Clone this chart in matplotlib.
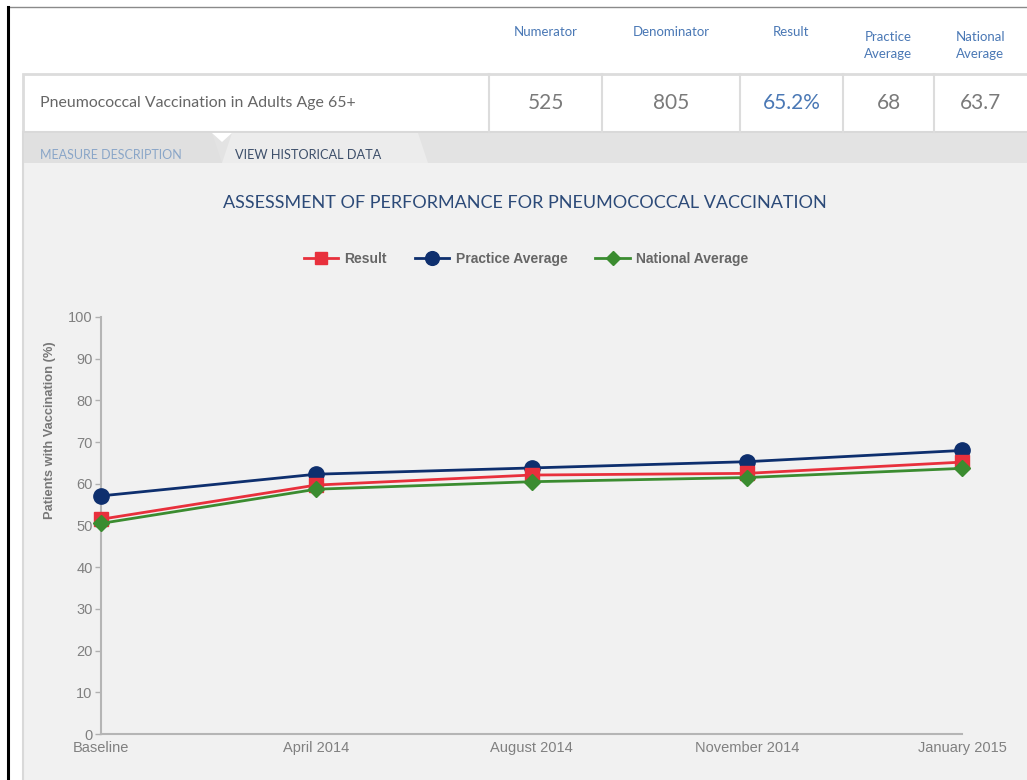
import matplotlib
matplotlib.use("Agg")
import matplotlib.pyplot as plt
from matplotlib.patches import Rectangle, Polygon
from matplotlib.lines import Line2D

# ---- data ----
periods = ["Baseline", "April 2014", "August 2014", "November 2014", "January 2015"]
result = [51.5, 59.7, 62.1, 62.5, 65.2]
practice_avg = [57.1, 62.3, 63.8, 65.3, 68.0]
national_avg = [50.5, 58.7, 60.5, 61.5, 63.7]
y_ticks = [0, 10, 20, 30, 40, 50, 60, 70, 80, 90, 100]

header_labels = ["Numerator", "Denominator", "Result", "Practice\nAverage", "National\nAverage"]
measure_name = "Pneumococcal Vaccination in Adults Age 65+"
row_values = ["525", "805", "65.2%", "68", "63.7"]

RED = "#e8303c"
NAVY = "#0e2f6e"
GREEN = "#3b8c30"
BLUE_TXT = "#4a78b5"
GRAY_TXT = "#777777"

W, H = 1027, 780
fig = plt.figure(figsize=(W / 100, H / 100), dpi=100)
fig.patch.set_facecolor("white")

# background axes in pixel coordinates
bg = fig.add_axes([0, 0, 1, 1])
bg.set_xlim(0, W)
bg.set_ylim(H, 0)
bg.axis("off")
bg.set_zorder(0)

ui_font = "Lato"

# outer frame lines
bg.add_line(Line2D([8, W], [7, 7], color="#8a8a8a", lw=1))
bg.add_line(Line2D([8, 8], [7, H], color="black", lw=2.2))

# header labels
col_bounds = [489, 602, 740, 843, 934, 1027]
for i, lab in enumerate(header_labels):
    cx = (col_bounds[i] + col_bounds[i + 1]) / 2
    cy = 32 if "\n" not in lab else 45.5
    bg.text(cx, cy, lab, ha="center", va="center", fontsize=9.5, color=BLUE_TXT,
            family=ui_font, linespacing=1.45)

# table row
bg.add_patch(Rectangle((23, 74), W - 23 + 5, 58, facecolor="white",
                       edgecolor="#dcdcdc", lw=2))
for xb in col_bounds[:-1]:
    bg.add_line(Line2D([xb, xb], [74, 132], color="#dcdcdc", lw=1.5))
bg.text(40, 103, measure_name, ha="left", va="center", fontsize=11.4,
        color="#666666", family=ui_font)
for i, v in enumerate(row_values):
    cx = (col_bounds[i] + col_bounds[i + 1]) / 2
    bg.text(cx, 103, v, ha="center", va="center", fontsize=15,
            color=BLUE_TXT if "%" in v else "#7a7a7a", family=ui_font)

# panel
bg.add_patch(Rectangle((23, 132), W - 23 + 5, H - 132 + 5, facecolor="#f1f1f1",
                       edgecolor="#d9d9d9", lw=1.5))
# tab strip
bg.add_patch(Rectangle((24, 133), W - 24, 30, facecolor="#e3e3e3", edgecolor="none"))
bg.add_patch(Polygon([(24, 133), (212, 133), (222, 163), (24, 163)],
                     closed=True, facecolor="#e0e0e0", edgecolor="none"))
bg.add_patch(Polygon([(232, 133), (418, 133), (428, 163), (222, 163)],
                     closed=True, facecolor="#ececec", edgecolor="none"))
bg.add_patch(Polygon([(212, 133), (232, 133), (222, 142)],
                     closed=True, facecolor="white", edgecolor="none"))
bg.text(40, 155, "MEASURE DESCRIPTION", ha="left", va="center", fontsize=9,
        color="#8aa6c8", family=ui_font)
bg.text(235, 155, "VIEW HISTORICAL DATA", ha="left", va="center", fontsize=9.2,
        color="#3d4f6a", family=ui_font)

# chart title
bg.text(525, 203, "ASSESSMENT OF PERFORMANCE FOR PNEUMOCOCCAL VACCINATION",
        ha="center", va="center", fontsize=13, color="#2c4a78", family=ui_font)

# y label
bg.text(50, 430, "Patients with Vaccination (%)", ha="center", va="center",
        rotation=90, fontsize=9.3, color="#777777", fontweight="bold",
        family="Liberation Sans")

# ---- chart axes ----
x0, x1 = 101, 962
y0, y1 = 734, 317
ax = fig.add_axes([x0 / W, (H - y0) / H, (x1 - x0) / W, (y0 - y1) / H])
ax.set_zorder(2)
ax.patch.set_alpha(0)
xs = list(range(len(periods)))

ax.plot(xs, result, color=RED, lw=2, marker="s", ms=10, clip_on=False,
        label="Result", zorder=4)
ax.plot(xs, practice_avg, color=NAVY, lw=2, marker="o", ms=11, clip_on=False,
        label="Practice Average", zorder=3)
ax.plot(xs, national_avg, color=GREEN, lw=2, marker="D", ms=8, clip_on=False,
        label="National Average", zorder=5)

ax.set_xlim(0, len(periods) - 1)
ax.set_ylim(0, 100)
ax.set_xticks(xs)
ax.set_xticklabels(periods, family="Liberation Sans", fontsize=10.5, color="#808080")
ax.set_yticks(y_ticks)
ax.set_yticklabels([str(t) for t in y_ticks], family="Liberation Sans",
                   fontsize=10.5, color="#808080")
ax.tick_params(axis="x", length=0, pad=5)
ax.tick_params(axis="y", length=4, width=1, color="#b0b0b0", pad=2)
for s in ["top", "right"]:
    ax.spines[s].set_visible(False)
for s in ["left", "bottom"]:
    ax.spines[s].set_color("#b5b5b5")
    ax.spines[s].set_linewidth(1.5)

leg = fig.legend(loc="center", bbox_to_anchor=(526 / W, 1 - 259 / H), ncol=3,
                 frameon=False, prop={"family": "Liberation Sans", "size": 10,
                                      "weight": "bold"},
                 handlelength=2.5, columnspacing=2.0, handletextpad=0.45,
                 markerscale=0.9)
for t in leg.get_texts():
    t.set_color("#666666")

fig.savefig("out.png", dpi=100)
